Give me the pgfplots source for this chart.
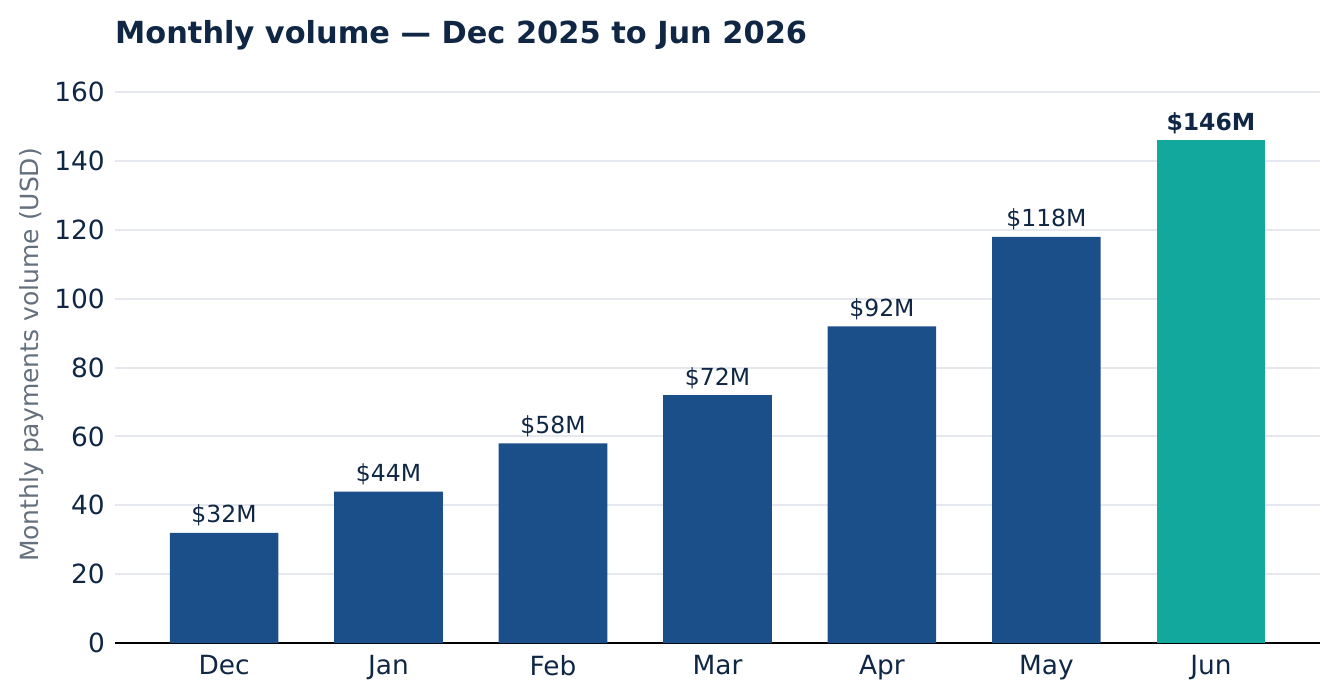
\documentclass[border=0pt]{standalone}
\usepackage{pgfplots}
\pgfplotsset{compat=1.18}
\usepackage{fontspec}
\setmainfont{DejaVu Sans}
\definecolor{barblue}{RGB}{27,79,138}
\definecolor{barteal}{RGB}{19,168,158}
\definecolor{navy}{RGB}{15,39,68}
\definecolor{labgray}{RGB}{100,112,125}
\definecolor{gridc}{RGB}{229,232,238}
\pgfplotstableread{
x y
0 32
1 44
2 58
3 72
4 92
5 118
}\blues
\pgfplotstableread{
x y
6 146
}\teal
\begin{document}
\begin{tikzpicture}
\useasboundingbox (0,0) rectangle (1340pt,699pt);
\begin{axis}[
  at={(115pt,56pt)}, anchor=south west,
  scale only axis, width=1205pt, height=568pt,
  xmin=-0.663, xmax=6.663, ymin=0, ymax=165,
  xtick={0,1,2,3,4,5,6},
  xticklabels={Dec,Jan,Feb,Mar,Apr,May,Jun},
  ytick={0,20,40,60,80,100,120,140,160},
  major tick length=0pt,
  axis x line*=bottom, axis y line*=left,
  y axis line style={draw=none},
  x axis line style={black, line width=2pt, -},
  ymajorgrids, grid style={gridc, line width=2pt},
  /pgf/number format/assume math mode=true,
  ticklabel style={font=\fontsize{26.4}{30}\selectfont, text=navy},
  yticklabel style={inner sep=0pt, xshift=-10pt},
  xticklabel style={inner sep=0pt, yshift=-12pt},
  ylabel={Monthly payments volume (USD)},
  ylabel style={at={(axis description cs:-0.0689,0.507)}, anchor=center, font=\fontsize{25}{30}\selectfont, text=labgray},
  title={Monthly volume — Dec 2025 to Jun 2026},
  title style={at={(axis description cs:0,1)}, anchor=base west, inner sep=0pt, yshift=25pt, font=\fontsize{30.4}{36}\selectfont\bfseries, text=navy},
  ybar, bar width=0.66, bar shift=0pt,
  nodes near coords={\$\pgfmathprintnumber{\pgfplotspointmeta}M},
  nodes near coords style={anchor=base, inner sep=0pt, yshift=10pt, font=\fontsize{23.5}{28}\selectfont, text=navy, /pgf/number format/assume math mode=true},
]
\addplot[fill=barblue, draw=none] table[x=x,y=y] {\blues};
\addplot[fill=barteal, draw=none, nodes near coords style={font=\fontsize{23.5}{28}\selectfont\bfseries}] table[x=x,y=y] {\teal};
\end{axis}
\end{tikzpicture}
\end{document}
